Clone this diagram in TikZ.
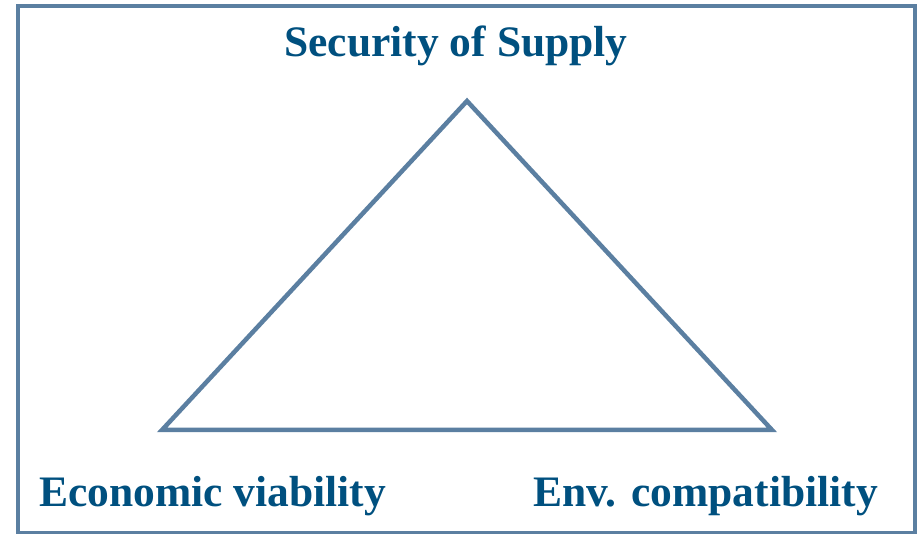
\documentclass[tikz,border=0pt]{standalone}
\usepackage{fontspec}
\setmainfont{Liberation Serif}
\usetikzlibrary{positioning}
\definecolor{edgeblue}{HTML}{5B7FA1}
\definecolor{textblue}{HTML}{00507F}
\tikzset{
  corner/.style={font=\fontsize{43.5}{43.5}\selectfont\bfseries, text=textblue, inner sep=0pt, anchor=base},
  side/.style={draw=edgeblue, line width=4.5pt, line join=miter}
}
\begin{document}
\begin{tikzpicture}[x=1pt,y=-1pt]
\useasboundingbox (0,0) rectangle (924,534);
\draw[side] (18,6) rectangle (915,533); % frame
\coordinate (apex) at (467,101);
\coordinate (lowleft) at (162,430);
\coordinate (lowright) at (772,430);
\draw[side] (apex) -- (lowleft) -- (lowright) -- cycle;
\node[corner] (supply) at (456,57) {Security of Supply};
\node[corner,anchor=base west] (economic) at (39,506) {Economic viability};
\node[corner,anchor=base east] (environ) at (878,506) {Env. compatibility};
\end{tikzpicture}
\end{document}
